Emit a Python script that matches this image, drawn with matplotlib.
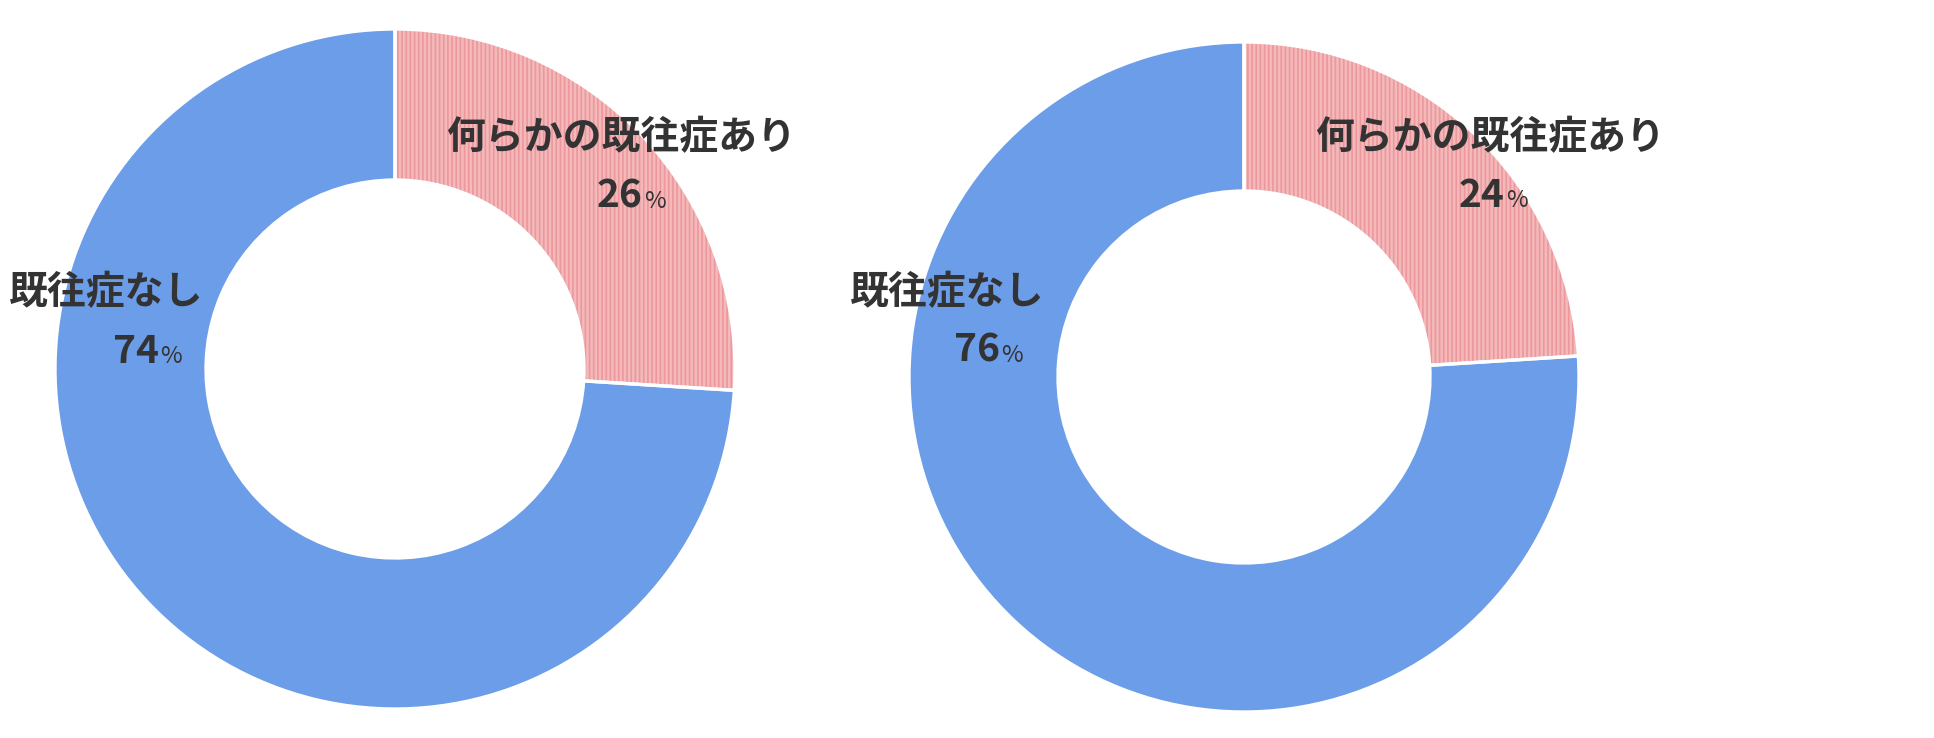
import matplotlib
matplotlib.use("Agg")
import matplotlib.pyplot as plt

# ---- data ----
categories = ["何らかの既往症あり", "既往症なし"]
left_values = [26, 74]
right_values = [24, 76]
left_pct_labels = ["26", "74"]
right_pct_labels = ["24", "76"]

W, H = 1934, 738
plt.rcParams['hatch.linewidth'] = 1.2
FAM = ['Noto Sans CJK JP', 'DejaVu Sans']
TXT = '#333333'
BLUE = '#6c9de9'
PINK = '#f4b9b9'
STRIPE = '#ec979e'

fig = plt.figure(figsize=(W / 100, H / 100), dpi=100)
ax = fig.add_axes([0, 0, 1, 1])


def Y(py):
    return H - py


def donut(values, cx, cy, r, inner):
    c = (cx, Y(cy))
    w = r - inner
    common = dict(startangle=90, counterclock=False, center=c, radius=r)
    wedges, _ = ax.pie(values, colors=[PINK, BLUE],
                       wedgeprops=dict(width=w, linewidth=0, edgecolor='none'),
                       **common)
    hw, _ = ax.pie(values, colors=['none', 'none'],
                   wedgeprops=dict(width=w, linewidth=0, fill=False),
                   **common)
    hw[0].set_hatch('||||')
    hw[0].set_edgecolor(STRIPE)
    hw[0].set_linewidth(0)
    hw[1].set_visible(False)
    ew, _ = ax.pie(values, colors=['none', 'none'],
                   wedgeprops=dict(width=w, linewidth=2.4, edgecolor='white', fill=False),
                   **common)


def label(text, x, y):
    ax.text(x, Y(y), text, ha='center', va='center', fontsize=28,
            fontweight='bold', color=TXT, family=FAM)


def pct(num, xr, yb):
    ax.text(xr, Y(yb), num, ha='right', va='baseline', fontsize=28,
            fontweight='bold', color=TXT, family=FAM)
    ax.text(xr + 1, Y(yb), '%', ha='left', va='baseline', fontsize=17,
            fontweight='normal', color=TXT, family=FAM)


donut(left_values, 395, 369, 340, 189)
donut(right_values, 1244, 377, 335, 186)

label(categories[0], 621, 138)
pct(left_pct_labels[0], 643, 208)
label(categories[1], 106, 293)
pct(left_pct_labels[1], 159, 363)

label(categories[0], 1490, 138)
pct(right_pct_labels[0], 1505, 207)
label(categories[1], 947, 293)
pct(right_pct_labels[1], 1000, 362)

ax.set_xlim(0, W)
ax.set_ylim(0, H)
ax.set_aspect('auto')
ax.axis('off')
fig.savefig('out.png', dpi=100, facecolor='white')
